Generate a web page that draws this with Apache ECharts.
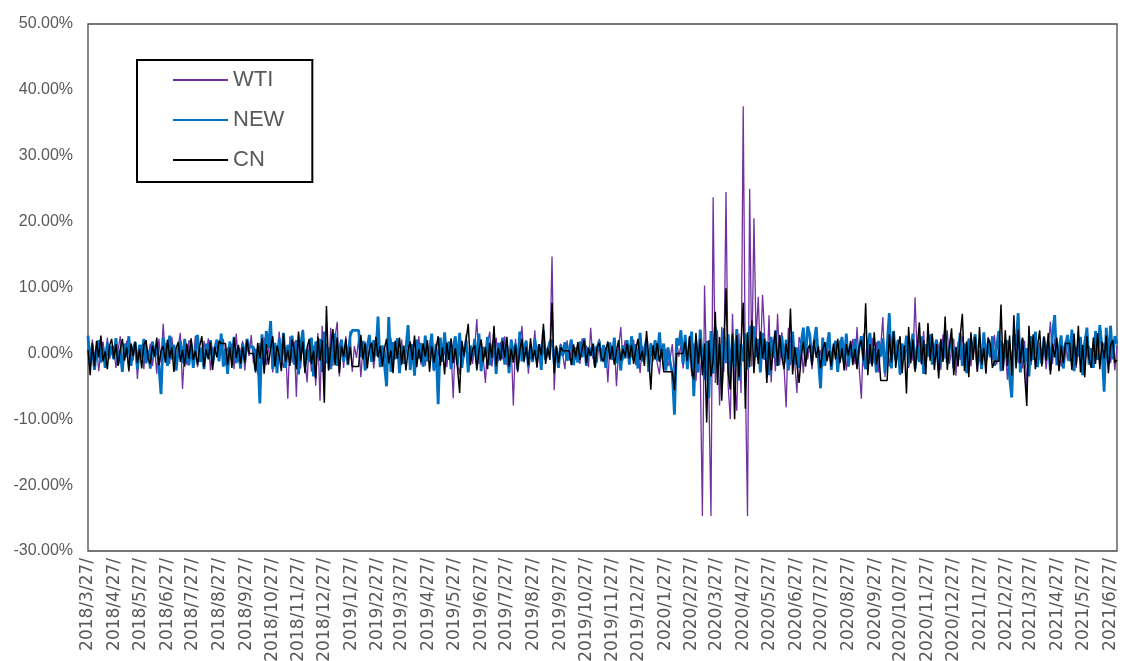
<!DOCTYPE html>
<html>
<head>
<meta charset="utf-8">
<script src="https://cdn.jsdelivr.net/npm/echarts@6/dist/echarts.min.js"></script>
<style>
  html, body { margin: 0; padding: 0; background: #fff; }
  #chart { width: 1122px; height: 661px; }
</style>
</head>
<body>
<div id="chart"></div>
<script>
// Daily returns (%), sampled evenly from 2018/3/27 to 2021/7/5
const startDate = [2018, 3, 27];
const spanDays = 1196;

const WTI = [
  0.8,-1.9,2.1,-0.6,1.4,-2.7,0.3,1.8,-1.2,2.4,-0.9,0.5,
  1.1,-2.2,0.4,2.6,-1.5,-0.3,1.9,-2.8,0.7,-1.1,1.6,-3.9,
  0.6,1.3,-2.4,2.0,-0.8,1.5,-1.9,0.9,-3.1,2.2,-1.4,4.5,
  -0.7,1.8,-1.6,2.5,-0.4,-2.3,1.2,3.1,-5.4,0.8,-1.7,2.0,
  1.4,-0.9,2.7,-2.1,0.6,-1.3,1.9,-0.5,2.3,-2.6,1.0,-0.2,
  1.7,-1.1,0.4,2.2,-1.8,0.9,-0.6,1.5,-2.4,3.0,-1.3,0.2,
  1.9,-2.6,1.1,-0.4,2.8,-1.5,0.7,-3.2,1.6,-0.9,2.4,-1.8,
  0.5,2.1,-2.9,1.3,-1.7,3.3,-0.8,-2.2,1.0,-6.9,2.6,-1.4,
  1.8,-6.6,2.9,-2.3,3.6,-1.1,-4.4,2.0,-2.8,1.2,-4.9,3.1,
  -7.2,4.2,-3.3,1.5,-2.6,3.9,-1.9,2.4,4.8,-3.5,1.7,-2.2,
  2.6,-1.4,3.4,-2.8,1.1,-0.7,2.3,-3.6,0.9,1.8,-1.2,0.4,
  1.6,-2.3,0.8,2.0,-1.1,0.5,-1.9,1.3,-0.6,2.4,-1.5,0.9,
  1.2,-0.8,2.1,-1.6,0.7,1.5,-2.2,0.3,1.9,-1.0,2.6,-1.7,
  0.5,-1.9,1.4,-0.6,2.2,-2.7,1.0,-0.4,1.7,-1.3,0.8,-2.1,
  1.1,0.6,-6.8,2.3,-1.5,-3.2,1.8,-0.7,2.9,-2.0,1.2,-1.6,
  0.9,5.2,-1.6,2.1,-0.8,-4.5,1.5,3.3,-2.0,0.6,2.4,-1.2,
  1.7,-0.9,2.6,-1.8,0.4,1.3,-7.9,2.2,-2.9,1.0,4.2,-1.4,
  2.0,-3.1,1.4,-0.6,3.5,-2.2,0.8,-1.5,1.9,-0.4,1.1,-0.8,
  14.7,-5.6,0.9,-1.8,1.5,-0.3,-2.4,2.0,-1.1,0.6,1.4,-0.9,
  0.7,-1.6,2.3,-0.5,1.2,-2.1,3.9,-0.8,1.1,-1.4,2.2,-0.6,
  -1.3,0.9,-4.4,1.7,-0.2,1.4,-5.0,0.8,4.0,-1.1,2.0,-0.7,
  1.3,-0.6,2.1,-1.8,0.5,-3.0,1.1,-0.4,0.9,-2.1,1.6,-1.2,
  0.4,-1.5,-3.2,1.0,-2.6,0.7,-1.9,-0.8,1.4,-3.8,2.1,-0.5,
  1.2,-2.3,0.8,-1.1,2.6,-3.5,1.5,-4.2,0.9,-2.0,-24.7,10.3,
  -3.0,-6.0,-24.7,23.7,-4.5,3.5,-7.9,4.0,-2.8,24.5,-5.0,-10.0,
  6.0,-4.0,-8.7,3.0,-6.0,37.5,-3.5,-24.7,25.0,-2.0,20.5,2.0,
  8.6,-1.0,8.9,2.5,-3.6,5.8,-4.4,1.9,-2.7,6.0,-1.8,3.2,
  -2.0,-8.2,3.9,-1.8,2.6,-1.4,-6.0,2.5,1.2,-3.0,2.0,-0.9,
  1.6,-2.4,0.8,2.9,-1.3,0.5,-2.0,1.7,-0.6,2.3,-1.9,1.0,
  0.6,-1.2,2.0,-0.8,1.4,-2.6,0.9,-0.3,2.2,-1.6,4.0,-2.2,
  -6.9,3.0,-2.1,1.2,-1.6,2.4,-0.8,1.7,-2.9,0.9,5.5,-3.6,
  1.8,-2.0,0.7,3.2,-1.5,2.1,-3.3,0.9,-1.0,2.6,-2.2,1.4,
  -1.1,8.5,-0.6,2.8,-1.7,3.4,-2.3,1.5,-0.4,2.7,-1.2,2.0,
  1.1,-2.5,2.9,-0.8,3.5,-1.6,0.5,2.2,-3.4,1.8,-1.0,2.6,
  0.7,-1.4,2.3,-2.0,1.5,0.4,-2.8,2.1,-0.6,1.9,-1.3,2.5,
  1.2,-0.9,2.8,-1.7,0.6,2.0,-2.6,0.9,-4.0,1.6,-1.2,3.1,
  2.4,-1.5,0.8,-2.3,1.9,-5.4,3.0,-1.8,0.5,2.2,-1.0,1.6,
  -0.8,1.7,-2.4,1.0,4.8,-1.6,2.2,-0.9,1.3,-2.0,0.6,1.8,
  -1.1,2.0,-0.4,1.5,-2.2,0.8,1.9,-1.3,2.6,-0.6,1.1,-1.7,
  1.4,-0.5,2.1,-1.9,0.7,1.6,-0.8,2.3,-1.5,0.9,-2.6,1.2
];

const NEW = [
  2.7,-1.8,1.2,-2.5,0.6,2.0,-1.4,0.9,-2.2,1.6,-0.5,1.1,
  -0.9,2.3,-1.7,0.4,-2.8,1.5,-0.6,2.6,-1.9,0.8,1.7,-2.4,
  1.3,-0.7,2.2,-1.5,0.5,-2.3,1.8,-0.4,1.2,-2.0,-6.2,2.4,
  0.8,-1.9,2.7,-0.9,1.3,-2.6,0.4,1.9,-1.5,2.2,-0.7,-1.8,
  1.6,-2.2,0.5,2.8,-1.3,0.9,-2.4,1.5,-0.6,2.0,-1.7,0.7,
  2.1,-1.2,3.0,-2.0,0.6,-3.1,1.8,-0.8,2.5,-1.5,0.9,-2.3,
  1.5,-1.0,2.2,1.0,1.0,1.0,-2.6,0.7,-7.6,2.9,-1.8,3.4,
  0.8,4.9,-2.4,1.6,-3.0,2.3,-1.1,3.1,-2.2,1.3,-0.5,2.7,
  -1.7,2.0,-3.2,1.1,3.5,-2.0,0.6,-1.3,2.4,-3.5,1.8,-0.7,
  2.2,-2.8,3.3,-1.5,0.9,-2.4,1.6,3.0,-1.9,0.5,2.1,-1.2,
  1.4,-1.8,2.6,3.5,3.5,3.5,3.5,-0.6,1.9,-2.6,1.0,2.8,
  -1.3,2.0,-0.4,5.6,-2.1,1.2,-1.7,-5.0,5.5,-2.8,1.7,-0.9,
  2.3,-3.0,1.1,-1.6,0.7,4.3,-2.5,1.4,-3.4,2.1,-0.8,1.6,
  -2.0,2.7,-1.2,0.6,3.0,-2.6,1.5,-7.7,2.4,-1.3,3.2,-0.9,
  1.8,-2.4,0.9,2.6,-1.7,3.1,-2.2,0.4,1.9,-2.9,1.2,-0.6,
  2.2,-1.5,3.0,-2.7,1.0,-0.5,2.5,-1.8,0.8,2.0,-3.1,1.6,
  -0.9,2.4,-1.7,1.2,-3.0,2.1,-0.6,1.5,-2.4,3.3,-1.2,0.7,
  1.9,-2.1,0.8,-1.3,2.2,-0.7,1.4,-2.5,3.5,-1.0,0.5,1.8,
  2.0,-1.6,0.9,-2.2,1.3,-0.4,1.7,-1.1,0.6,2.1,-1.8,0.9,
  -1.4,1.8,-0.6,2.3,-1.9,1.0,-0.3,1.5,-2.0,0.8,1.9,-1.2,
  1.3,-2.2,0.7,1.6,-1.0,2.4,-1.5,0.5,-2.6,1.2,-0.8,2.0,
  -1.7,2.6,-0.9,1.4,-2.3,3.1,-1.2,0.6,2.2,-2.8,1.5,-0.4,
  2.0,-1.1,3.2,-0.8,1.5,-2.6,0.9,-1.4,-3.0,-9.3,2.3,1.2,
  3.5,-1.6,2.8,-2.4,1.0,3.3,-6.5,1.8,-2.9,3.6,-1.2,-4.0,
  1.9,-6.8,3.4,-3.1,4.0,-2.2,1.3,-4.6,3.8,-1.5,2.9,-3.8,
  2.6,-2.0,3.7,-4.1,1.4,-1.2,3.0,-2.4,4.0,4.0,4.0,-0.6,
  2.2,-2.9,3.1,-1.0,1.8,-3.3,2.5,-0.7,3.4,-1.9,0.8,2.6,
  -1.5,2.1,-2.6,1.2,3.3,-1.7,0.9,-2.2,1.6,3.9,-0.9,4.1,
  2.8,-1.2,1.7,4.0,-0.8,-5.3,2.4,-1.9,1.0,3.2,-2.5,0.6,
  1.9,-2.8,0.7,2.5,-1.4,3.0,-2.0,1.2,-0.6,2.2,-1.7,0.9,
  2.6,-1.1,-2.4,1.5,3.1,-1.6,0.8,-2.9,1.9,-0.5,2.3,-3.0,
  1.2,6.1,-2.3,3.4,-1.0,2.0,-3.2,1.5,-0.6,2.7,-1.8,0.9,
  3.0,-2.4,1.1,-1.3,2.6,-3.1,1.4,-0.5,2.9,-1.7,0.6,2.1,
  -2.6,1.8,-0.9,3.3,-1.5,0.7,2.4,-2.2,1.0,-0.4,3.1,-1.9,
  1.5,-3.0,2.2,-0.8,1.3,2.9,-1.6,0.5,-2.4,3.2,-1.1,1.7,
  -0.6,2.6,-1.9,1.0,3.4,-2.7,1.5,-0.7,2.0,-3.6,-6.7,2.8,
  1.2,6.1,-2.9,2.2,-1.4,0.8,-3.5,2.6,-1.0,3.3,-2.1,1.1,
  -1.6,2.4,-0.7,1.9,-2.6,3.0,5.8,-1.8,0.6,2.7,-2.3,1.3,
  2.8,-1.2,3.6,-2.7,1.0,-0.5,2.5,-3.3,1.4,3.9,-1.7,0.8,
  -2.2,3.4,-1.0,4.3,0.9,-5.8,3.9,-1.4,4.2,-0.9,2.6,1.5
];

const CN = [
  0.5,-3.3,1.6,-2.0,1.9,-0.6,2.7,-1.2,0.3,-2.4,1.1,2.2,
  -0.8,1.4,-1.9,0.6,2.2,-1.1,0.9,-2.6,1.5,-0.4,1.8,-1.5,
  0.7,-2.3,1.3,2.0,-0.9,-1.6,1.2,-0.5,2.4,-1.8,0.4,1.1,
  -1.4,2.1,-0.7,1.0,-2.8,0.8,1.7,-1.3,0.5,-2.0,1.5,-0.8,
  2.3,-1.0,0.4,-1.8,1.1,2.6,-2.1,0.6,-0.9,1.7,-2.5,1.0,
  -0.6,1.9,1.5,1.5,1.5,-1.8,0.9,-2.2,2.4,-0.7,1.3,-1.6,
  1.0,-1.4,2.0,0.0,0.0,0.0,-2.9,1.6,-0.8,2.3,-3.1,1.4,
  -1.7,0.8,2.6,-2.0,1.2,-0.4,-2.7,3.0,-1.3,0.5,-1.9,2.1,
  0.6,-2.4,3.3,-1.2,1.8,-3.0,0.9,2.2,-1.6,0.4,-3.8,2.5,
  -1.1,2.0,-7.5,7.2,-2.6,0.9,3.7,-1.8,2.4,-3.0,1.1,-0.5,
  2.2,-1.6,1.0,-2.0,-2.0,-2.0,-2.0,2.8,-0.9,1.5,-2.3,0.7,
  1.6,-1.2,2.5,-0.6,1.1,-2.0,0.8,2.2,-1.5,0.4,-3.0,1.9,
  -0.8,2.4,-1.7,1.2,-2.6,0.5,1.8,-1.0,2.7,-2.1,0.6,-1.3,
  1.5,-0.5,2.0,-2.8,1.1,-1.4,0.7,2.6,-1.9,0.9,-3.2,1.6,
  -1.0,2.3,-1.5,0.8,-2.2,-6.0,1.9,-0.4,2.0,4.5,-1.8,0.6,
  1.2,-2.6,0.5,2.1,-1.3,0.9,-2.4,1.6,-0.7,4.2,-1.9,0.8,
  -1.1,1.9,-0.6,2.5,-2.0,0.7,-1.4,1.3,-2.7,0.4,2.2,-1.2,
  1.0,-1.8,2.3,-0.9,0.5,-2.1,1.4,-0.3,4.5,-1.6,0.8,-1.0,
  7.7,-3.0,1.2,-1.4,0.9,0.4,0.4,0.4,0.4,-1.8,1.3,-0.6,
  1.7,-1.0,0.6,2.0,-1.5,0.8,-0.4,1.4,-2.2,0.9,1.6,-0.7,
  -1.2,0.5,1.8,-0.9,1.1,-1.7,0.3,2.0,-1.1,0.7,-0.5,1.5,
  -0.8,1.3,-1.6,0.6,2.2,-1.0,0.4,-1.9,3.4,-0.7,-5.5,1.2,
  -0.9,1.6,-1.3,0.7,-2.8,-2.8,-2.8,-2.8,-2.8,-5.6,0.0,0.0,
  0.0,0.0,1.8,-1.2,2.6,-2.4,-4.0,3.1,-1.6,2.2,-3.3,1.5,
  -10.5,2.0,-3.5,-1.0,6.3,-4.8,2.5,-7.2,1.0,9.9,-3.0,-5.5,
  3.0,-10.0,2.8,-3.6,1.5,7.7,-8.4,3.2,-2.1,5.0,-3.0,2.4,
  -1.6,3.3,-0.8,2.2,-4.5,1.7,-2.6,0.9,3.5,-1.9,2.8,-0.6,
  -2.4,1.5,-0.9,6.8,-3.2,1.0,-1.7,-4.5,-0.5,1.8,-2.0,0.7,
  1.3,-1.8,2.0,-0.7,1.1,-2.3,0.6,1.7,-1.2,0.4,-2.0,1.5,
  -0.9,2.2,-1.5,0.8,-2.6,1.4,-0.3,1.9,-1.8,0.7,-2.4,1.0,
  2.0,-1.1,7.6,-3.3,1.4,-2.0,3.2,-1.7,0.6,-4.1,-4.1,-4.1,
  -4.1,2.9,-1.4,3.3,-2.2,0.8,2.6,-3.0,1.2,-6.1,4.0,-1.5,
  2.1,-2.8,0.9,4.7,-1.6,2.0,-3.2,4.6,-1.1,3.0,-2.5,1.4,
  -3.8,2.2,-1.3,5.6,-2.5,1.1,3.8,-3.3,0.9,-2.0,2.6,6.0,
  -2.7,1.8,-3.6,3.2,-1.0,2.5,-2.8,4.0,-1.7,0.8,-3.1,2.3,
  1.5,-2.2,-1.2,-1.2,-1.2,7.4,-2.6,3.5,-1.9,2.7,-3.4,5.8,
  -2.3,3.6,-1.5,2.4,-3.0,-8.0,4.2,-1.2,2.9,-2.4,1.0,3.5,
  -2.0,2.6,-1.1,3.1,-3.2,1.5,-0.6,2.4,-2.7,1.2,-1.5,1.5,
  1.5,1.5,-2.5,3.0,-1.8,4.2,-2.9,1.3,-3.6,2.6,-0.9,-2.2,
  2.4,-1.6,3.1,-2.4,1.8,-0.8,2.7,-3.0,1.2,2.0,-1.4,-1.0
];

// Monthly tick labels on the date axis
const tickLabels = [
  '2018/3/27/','2018/4/27/','2018/5/27/','2018/6/27/','2018/7/27/','2018/8/27/',
  '2018/9/27/','2018/10/27/','2018/11/27/','2018/12/27/','2019/1/27/','2019/2/27/',
  '2019/3/27/','2019/4/27/','2019/5/27/','2019/6/27/','2019/7/27/','2019/8/27/',
  '2019/9/27/','2019/10/27/','2019/11/27/','2019/12/27/','2020/1/27/','2020/2/27/',
  '2020/3/27/','2020/4/27/','2020/5/27/','2020/6/27/','2020/7/27/','2020/8/27/',
  '2020/9/27/','2020/10/27/','2020/11/27/','2020/12/27/','2021/1/27/','2021/2/27/',
  '2021/3/27/','2021/4/27/','2021/5/27/','2021/6/27/'
];

const DAY = 86400000;
const t0 = Date.UTC(startDate[0], startDate[1] - 1, startDate[2]);
const tickDays = tickLabels.map(s => {
  const p = s.split('/').map(Number);
  return Math.round((Date.UTC(p[0], p[1] - 1, p[2]) - t0) / DAY);
});
const labelByDay = {};
tickDays.forEach((d, k) => { labelByDay[d] = tickLabels[k]; });

function toPairs(arr) {
  const step = spanDays / (arr.length - 1);
  return arr.map((v, i) => [i * step, v]);
}

const FONT = 'Liberation Sans';
const chart = echarts.init(document.getElementById('chart'), null, { renderer: 'canvas' });

chart.setOption({
  animation: false,
  backgroundColor: '#ffffff',
  grid: {
    left: 88, top: 24, right: 5, bottom: 110,
    show: true, borderColor: '#4a4a4a', borderWidth: 1.3,
    containLabel: false,
    outerBoundsMode: 'none'
  },
  legend: {
    orient: 'vertical',
    left: 137, top: 60,
    padding: [9, 28, 11, 35],
    borderColor: '#000', borderWidth: 2,
    itemWidth: 55, itemHeight: 22, itemGap: 18,
    itemStyle: { opacity: 0 },
    textStyle: { fontFamily: FONT, fontSize: 22, color: '#595959' },
    data: ['WTI', 'NEW', 'CN']
  },
  xAxis: {
    type: 'value',
    min: 0, max: spanDays,
    axisLine: { show: false },
    axisTick: { show: false },
    splitLine: { show: false },
    axisLabel: {
      customValues: tickDays,
      rotate: 90,
      margin: 7,
      fontFamily: 'DejaVu Sans', fontSize: 17, color: '#595959',
      formatter: v => labelByDay[Math.round(v)] || ''
    }
  },
  yAxis: {
    type: 'value',
    min: -30, max: 50, interval: 10,
    axisLine: { show: false },
    axisTick: { show: false },
    splitLine: { show: false },
    axisLabel: {
      margin: 15,
      fontFamily: FONT, fontSize: 16, color: '#595959',
      formatter: v => v.toFixed(2) + '%'
    }
  },
  series: [
    {
      name: 'WTI', type: 'line', data: toPairs(WTI),
      symbol: 'none', color: '#7030A0',
      lineStyle: { width: 1.3, color: '#7030A0' }
    },
    {
      name: 'NEW', type: 'line', data: toPairs(NEW),
      symbol: 'none', color: '#0070C0',
      lineStyle: { width: 2.8, color: '#0070C0' }
    },
    {
      name: 'CN', type: 'line', data: toPairs(CN),
      symbol: 'none', color: '#000000',
      lineStyle: { width: 1.5, color: '#000000' }
    }
  ]
});
</script>
</body>
</html>
